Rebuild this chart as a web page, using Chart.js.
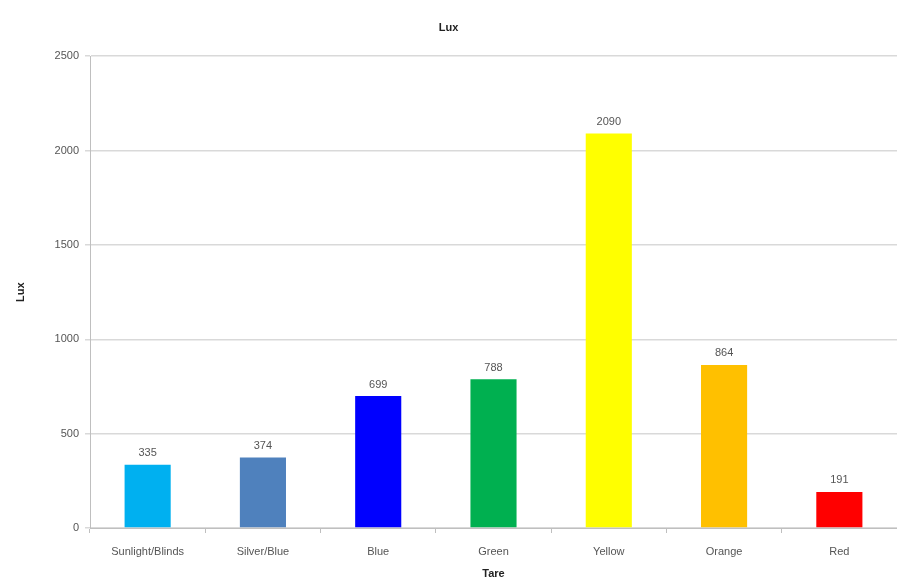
<!DOCTYPE html>
<html>
<head>
<meta charset="utf-8">
<script src="https://cdn.jsdelivr.net/npm/chart.js@4"></script>
<style>
  html, body { margin: 0; padding: 0; background: #fff; }
  #wrap { width: 897px; height: 581px; }
</style>
</head>
<body>
<div id="wrap"><canvas id="graficoLux"></canvas></div>
<script>
// dados
const categorias = ['Sunlight/Blinds', 'Silver/Blue', 'Blue', 'Green', 'Yellow', 'Orange', 'Red'];
const valoresLux = [335, 374, 699, 788, 2090, 864, 191];
const coresBarras = ['#00b0f0', '#4f81bd', '#0000ff', '#00b050', '#ffff00', '#ffc000', '#ff0000'];
const ticksY = [0, 500, 1000, 1500, 2000, 2500];

const fonte = "'Liberation Sans', 'DejaVu Sans', sans-serif";

// rótulos de valor acima das barras
const rotulos = {
  id: 'rotulos',
  afterDatasetsDraw(chart) {
    const c = chart.ctx;
    const meta = chart.getDatasetMeta(0);
    c.save();
    c.font = '11px ' + fonte;
    c.fillStyle = '#555';
    c.textAlign = 'center';
    c.textBaseline = 'bottom';
    meta.data.forEach((bar, i) => {
      c.fillText(valoresLux[i], bar.x, bar.y - 6);
    });
    c.restore();
  }
};

const ctx = document.getElementById('graficoLux').getContext('2d');
const chart = new Chart(ctx, {
  type: 'bar',
  data: {
    labels: categorias,
    datasets: [{
      label: 'Lux',
      data: valoresLux,
      backgroundColor: coresBarras,
      categoryPercentage: 1,
      barPercentage: 0.4
    }]
  },
  options: {
    responsive: true,
    maintainAspectRatio: false,
    animation: false,
    layout: { padding: 0 },
    plugins: {
      legend: { display: false },
      tooltip: { enabled: false },
      title: {
        display: true,
        text: 'Lux',
        color: '#222',
        font: { family: fonte, size: 11, weight: 'bold' },
        padding: { top: 21, bottom: 22 }
      }
    },
    scales: {
      x: {
        grid: { display: true, drawOnChartArea: false, tickLength: 5, color: '#bfbfbf' },
        border: { display: true, color: '#bfbfbf' },
        ticks: { color: '#555', font: { family: fonte, size: 11 }, padding: 12, maxRotation: 0 },
        title: {
          display: true, text: 'Tare', color: '#222',
          font: { family: fonte, size: 11, weight: 'bold' }, padding: { top: 8, bottom: 0 }
        },
        afterFit(scale) { scale.height = 53; }
      },
      y: {
        min: 0,
        max: 2500,
        afterBuildTicks(scale) { scale.ticks = ticksY.map(v => ({ value: v })); },
        grid: { color: '#d9d9d9', lineWidth: 1.5, tickLength: 5 },
        border: { display: true, color: '#bfbfbf' },
        ticks: { color: '#555', font: { family: fonte, size: 11 }, padding: 6, callback: v => String(v) },
        title: {
          display: true, text: 'Lux', color: '#222',
          font: { family: fonte, size: 11, weight: 'bold' }, padding: { top: 14, bottom: 0 }
        },
        afterFit(scale) { scale.width = 90; }
      }
    }
  },
  plugins: [rotulos]
});
</script>
</body>
</html>
